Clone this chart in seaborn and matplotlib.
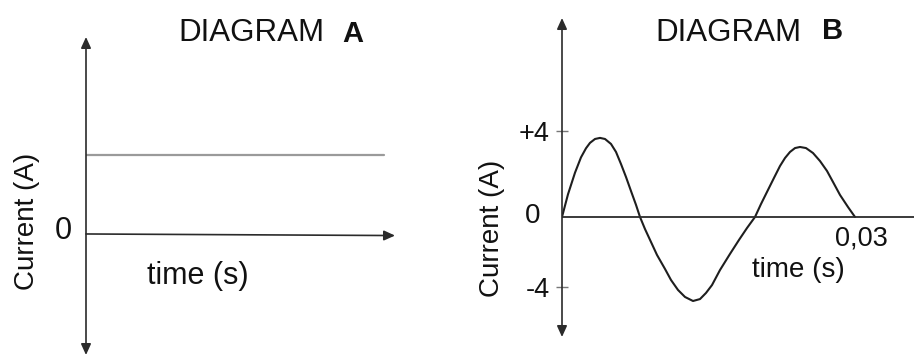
import numpy as np
import pandas as pd
import matplotlib
matplotlib.use("Agg")
import matplotlib.pyplot as plt
import seaborn as sns

# Diagram A: steady (direct) current, arbitrary level above zero
dc_time = [0.0, 0.964]
dc_current = [1.0, 1.0]

# Diagram B: alternating current sampled along one and a half cycles (s, A)
ac_time = [0.0, 0.000614, 0.000922, 0.001331, 0.001945, 0.002457, 0.002867,
           0.003379, 0.003891, 0.004403, 0.005017, 0.005529, 0.006041, 0.006553,
           0.007065, 0.007577, 0.007986, 0.008498, 0.009113, 0.009727, 0.010546,
           0.01116, 0.011877, 0.012594, 0.013413, 0.01413, 0.014744, 0.015358,
           0.016177, 0.017201, 0.018123, 0.018942, 0.019761, 0.020375, 0.02099,
           0.021706, 0.022321, 0.022833, 0.023345, 0.023857, 0.024369, 0.024983,
           0.0257, 0.026416, 0.027133, 0.027747, 0.028464, 0.029283, 0.03]
ac_current = [0.0, 1.05, 1.48, 2.05, 2.76, 3.18, 3.43,
              3.61, 3.66, 3.61, 3.38, 3.01, 2.45, 1.85,
              1.20, 0.56, 0.0, -0.69, -1.43, -2.17, -2.97,
              -3.60, -4.17, -4.57, -4.80, -4.69, -4.34, -3.89,
              -3.03, -2.11, -1.31, -0.63, 0.0, 0.60, 1.16,
              1.81, 2.36, 2.73, 3.01, 3.19, 3.24, 3.19,
              2.96, 2.59, 2.13, 1.62, 1.02, 0.46, 0.0]

b_ticks = [4, -4]
b_tick_labels = ["+4", "-4"]
end_time_label = "0,03"

sns.set_theme(style="white")
plt.rcParams["font.family"] = ["Liberation Sans", "DejaVu Sans"]

W, H = 914, 358
fig = plt.figure(figsize=(W / 100, H / 100), dpi=100)
fig.patch.set_facecolor("white")


def fx(x):
    return x / W


def fy(y):
    return 1 - y / H


TXT = "#111111"
AXC = "#2b2b2b"
arrow_kw = dict(arrowstyle="-|>,head_length=0.55,head_width=0.25", color=AXC,
                lw=1.2, shrinkA=0, shrinkB=0, mutation_scale=12)
arrow2_kw = dict(arrow_kw, arrowstyle="<|-|>,head_length=0.55,head_width=0.25")

# ---------------- Diagram A ----------------
axA = fig.add_axes([fx(86), fy(355), (395 - 86) / W, (355 - 37) / H])
axA.set_facecolor("none")
sns.lineplot(x=dc_time, y=dc_current, ax=axA, color="#9a9a9a", lw=1.6,
             sort=False, estimator=None)
axA.set_xlim(0, 1)
axA.set_ylim(-1.53, 2.49)
for s in axA.spines.values():
    s.set_visible(False)
axA.set_xticks([])
axA.set_yticks([])
axA.set_xlabel("")
axA.set_ylabel("")
axA.annotate("", xy=(0, 1), xytext=(0, 0), xycoords="axes fraction",
             arrowprops=arrow2_kw)
axA.annotate("", xy=(1, -0.02), xytext=(0, 0), xycoords=("axes fraction", "data"),
             arrowprops=arrow_kw)

fig.text(fx(178), fy(41), "DIAGRAM", fontsize=22.5, color=TXT, va="baseline")
fig.text(fx(342), fy(42), "A", fontsize=21, fontweight="bold", color=TXT,
         va="baseline")
fig.text(fx(27), fy(221), "Current (A)", fontsize=20, rotation=90, color=TXT,
         ha="center", va="center")
fig.text(fx(72), fy(239), "0", fontsize=22, color=TXT, ha="right", va="baseline")
fig.text(fx(147), fy(284), "time (s)", fontsize=22, color=TXT, va="baseline")

# ---------------- Diagram B ----------------
axB = fig.add_axes([fx(562), fy(337), (914 - 562) / W, (337 - 18) / H])
axB.set_facecolor("none")
up, down = 21.6, 17.5


def fwd(v):
    v = np.asarray(v, dtype=float)
    return np.where(v >= 0, v * up, v * down)


def inv(v):
    v = np.asarray(v, dtype=float)
    return np.where(v >= 0, v / up, v / down)


axB.set_yscale("function", functions=(fwd, inv))
df = pd.DataFrame({"time": ac_time, "current": ac_current})
sns.lineplot(data=df, x="time", y="current", ax=axB, color="#1e1e1e", lw=1.5,
             sort=False, estimator=None, solid_joinstyle="round")
axB.set_xlim(0, 0.03604)
axB.set_ylim(-6.857, 9.21)
for s in axB.spines.values():
    s.set_visible(False)
axB.set_xticks([])
axB.set_yticks(b_ticks)
axB.set_yticklabels(b_tick_labels)
axB.tick_params(axis="y", direction="inout", length=8.6, width=1.0,
                color="#777777", pad=4.5, labelsize=19.5, labelcolor=TXT, left=True)
axB.set_xlabel("")
axB.set_ylabel("")
axB.axhline(0, color=AXC, lw=1.3)
axB.annotate("", xy=(0, 1), xytext=(0, 0), xycoords="axes fraction",
             arrowprops=arrow2_kw)
axB.annotate(end_time_label, xy=(ac_time[-1], 0), xytext=(-14.4, -20.5),
             textcoords="offset points", fontsize=19.5, color=TXT,
             ha="left", va="baseline")

fig.text(fx(655), fy(41), "DIAGRAM", fontsize=22.5, color=TXT, va="baseline")
fig.text(fx(822), fy(39), "B", fontsize=21, fontweight="bold", color=TXT,
         va="baseline")
fig.text(fx(492), fy(228), "Current (A)", fontsize=20, rotation=90, color=TXT,
         ha="center", va="center")
fig.text(fx(540), fy(223), "0", fontsize=20, color=TXT, ha="right", va="baseline")
fig.text(fx(752), fy(277), "time (s)", fontsize=20, color=TXT, va="baseline")

fig.savefig("out.png", dpi=100, facecolor="white")
